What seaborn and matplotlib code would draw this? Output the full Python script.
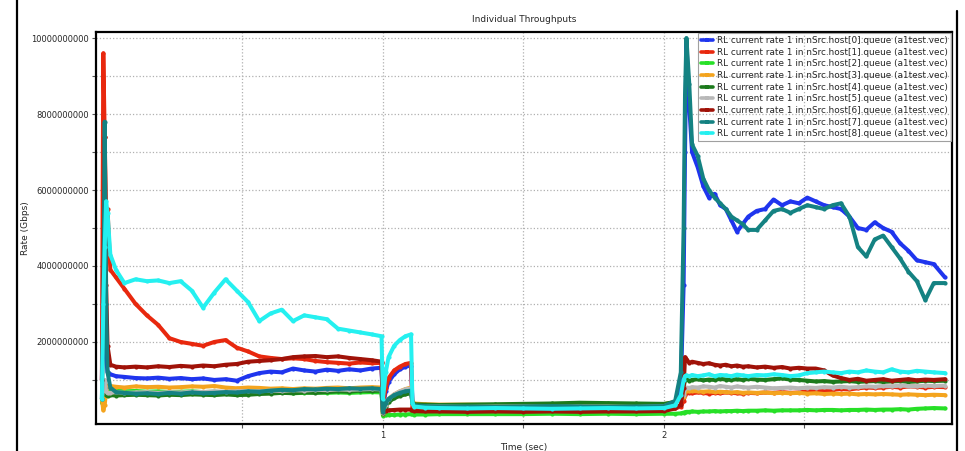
import matplotlib
matplotlib.use("Agg")
import matplotlib.pyplot as plt
import pandas as pd
import seaborn as sns
from matplotlib.lines import Line2D
from matplotlib.ticker import FixedLocator, FuncFormatter

sns.set_style("white")
plt.rcParams["font.family"] = ["DejaVu Sans"]

# ---- data (rates in units of 1e9) ----
time_s = [0.0, 0.005, 0.01, 0.015, 0.02, 0.03, 0.05, 0.08, 0.12, 0.16, 0.20, 0.24, 0.28, 0.32, 0.36,
          0.40, 0.44, 0.48, 0.52, 0.56, 0.60, 0.64, 0.68, 0.72, 0.76, 0.80, 0.84, 0.88, 0.92, 0.96, 0.995,
          1.0, 1.01, 1.02, 1.04, 1.06, 1.08, 1.1, 1.105,
          1.11, 1.15, 1.2, 1.3, 1.4, 1.5, 1.6, 1.7, 1.8, 1.9, 2.0, 2.04, 2.06,
          2.07, 2.075, 2.08, 2.09, 2.1, 2.12, 2.14, 2.16, 2.18, 2.2, 2.22, 2.24, 2.26, 2.28, 2.30, 2.33,
          2.36, 2.39, 2.42, 2.45, 2.48, 2.51, 2.54, 2.57, 2.60, 2.63, 2.66, 2.69, 2.72, 2.75, 2.78, 2.81,
          2.84, 2.87, 2.90, 2.93, 2.96, 3.0]

host0 = [1.0, 5.1, 2.8, 1.6, 1.2, 1.15, 1.1, 1.08, 1.05, 1.04, 1.06, 1.03, 1.05, 1.02, 1.04, 1.0, 1.02,
         0.98, 1.1, 1.18, 1.22, 1.2, 1.3, 1.25, 1.22, 1.27, 1.24, 1.28, 1.25, 1.3, 1.32,
         0.3, 0.7, 0.95, 1.15, 1.28, 1.35, 1.38, 0.45,
         0.35, 0.3, 0.28, 0.26, 0.27, 0.25, 0.26, 0.25, 0.24, 0.25, 0.26, 0.35, 0.8,
         3.5, 7.0, 9.9, 8.2, 7.0, 6.6, 6.1, 5.8, 5.9, 5.6, 5.5, 5.2, 4.9, 5.1, 5.3, 5.45, 5.5, 5.75,
         5.6, 5.7, 5.65, 5.8, 5.7, 5.6, 5.55, 5.5, 5.3, 5.0, 4.95, 5.15, 5.0, 4.9, 4.6, 4.4, 4.15,
         4.1, 4.05, 3.7]
host1 = [1.0, 9.6, 7.4, 5.3, 5.5, 3.9, 3.7, 3.4, 3.0, 2.7, 2.45, 2.1, 2.0, 1.95, 1.9, 2.0, 2.05, 1.85,
         1.75, 1.62, 1.58, 1.55, 1.57, 1.55, 1.5, 1.47, 1.45, 1.43, 1.46, 1.44, 1.45,
         0.35, 0.8, 1.05, 1.25, 1.35, 1.42, 1.45, 0.3,
         0.22, 0.2, 0.2, 0.19, 0.2, 0.21, 0.2, 0.19, 0.2, 0.2, 0.21, 0.25, 0.3,
         0.45, 0.6, 0.65, 0.66, 0.65, 0.67, 0.66, 0.64, 0.66, 0.65, 0.67, 0.66, 0.65, 0.64, 0.66,
         0.65, 0.67, 0.66, 0.68, 0.66, 0.67, 0.7, 0.72, 0.71, 0.74, 0.76, 0.75, 0.78, 0.8, 0.79,
         0.8, 0.82, 0.8, 0.83, 0.82, 0.8, 0.82, 0.81]
host2 = [0.4, 0.5, 0.55, 0.62, 0.68, 0.7, 0.72, 0.7, 0.71, 0.69, 0.7, 0.68, 0.69, 0.7, 0.68, 0.69,
         0.67, 0.68, 0.66, 0.67, 0.66, 0.67, 0.65, 0.66, 0.67, 0.66, 0.67, 0.66, 0.67, 0.68, 0.67,
         0.06, 0.07, 0.08, 0.08, 0.09, 0.09, 0.1, 0.1,
         0.09, 0.09, 0.1, 0.1, 0.1, 0.1, 0.11, 0.1, 0.11, 0.1, 0.11, 0.11, 0.12,
         0.14, 0.15, 0.16, 0.16, 0.17, 0.16, 0.17, 0.17, 0.18, 0.17, 0.18, 0.18, 0.19, 0.18, 0.19,
         0.19, 0.2, 0.19, 0.2, 0.2, 0.2, 0.21, 0.2, 0.21, 0.21, 0.2, 0.21, 0.21, 0.22, 0.21,
         0.22, 0.22, 0.23, 0.22, 0.24, 0.25, 0.26, 0.25]
host3 = [0.5, 0.2, 0.35, 0.7, 0.85, 0.84, 0.82, 0.8, 0.83, 0.81, 0.82, 0.8, 0.81, 0.83, 0.82, 0.84,
         0.8, 0.78, 0.8, 0.79, 0.77, 0.78, 0.76, 0.78, 0.77, 0.79, 0.8, 0.78, 0.8, 0.81, 0.8,
         0.1, 0.35, 0.5, 0.62, 0.7, 0.76, 0.8, 0.42,
         0.38, 0.36, 0.35, 0.35, 0.34, 0.35, 0.34, 0.35, 0.34, 0.35, 0.36, 0.42, 0.48,
         0.55, 0.68, 0.72, 0.7, 0.71, 0.7, 0.69, 0.7, 0.68, 0.69, 0.68, 0.67, 0.68, 0.66, 0.67,
         0.66, 0.67, 0.65, 0.66, 0.65, 0.66, 0.64, 0.65, 0.63, 0.64, 0.63, 0.64, 0.62, 0.63, 0.62,
         0.63, 0.62, 0.61, 0.62, 0.61, 0.6, 0.61, 0.6]
host4 = [0.5, 0.9, 0.8, 0.6, 0.58, 0.6, 0.59, 0.6, 0.61, 0.6, 0.59, 0.61, 0.6, 0.62, 0.61, 0.6, 0.62,
         0.6, 0.61, 0.63, 0.64, 0.66, 0.65, 0.67, 0.66, 0.68, 0.7, 0.69, 0.72, 0.71, 0.72,
         0.1, 0.3, 0.42, 0.52, 0.58, 0.62, 0.65, 0.4,
         0.36, 0.35, 0.34, 0.35, 0.36, 0.37, 0.38, 0.4, 0.39, 0.38, 0.37, 0.42, 0.55,
         0.8, 1.0, 1.02, 0.98, 1.0, 1.02, 0.99, 1.01, 1.0, 1.03, 1.01, 1.0, 1.02, 1.0, 1.03, 1.01,
         1.0, 1.02, 1.04, 1.01, 1.0, 0.98, 0.96, 0.97, 0.95, 0.96, 0.97, 0.95, 0.96, 0.97,
         0.95, 0.96, 0.97, 0.95, 0.96, 0.98, 0.97, 0.98]
host5 = [0.5, 0.8, 1.0, 0.7, 0.65, 0.66, 0.68, 0.66, 0.67, 0.68, 0.66, 0.68, 0.67, 0.69, 0.68, 0.7,
         0.69, 0.7, 0.71, 0.7, 0.72, 0.71, 0.73, 0.72, 0.74, 0.73, 0.75, 0.74, 0.75, 0.76, 0.75,
         0.12, 0.35, 0.5, 0.62, 0.7, 0.75, 0.78, 0.4,
         0.32, 0.3, 0.3, 0.29, 0.3, 0.3, 0.29, 0.3, 0.3, 0.29, 0.31, 0.4, 0.5,
         0.6, 0.78, 0.8, 0.79, 0.81, 0.8, 0.83, 0.82, 0.8, 0.84, 0.82, 0.8, 0.83, 0.81, 0.8, 0.82,
         0.8, 0.78, 0.79, 0.8, 0.78, 0.8, 0.79, 0.81, 0.8, 0.82, 0.8, 0.81, 0.83, 0.82,
         0.84, 0.83, 0.85, 0.84, 0.83, 0.85, 0.84, 0.85]
host6 = [1.0, 3.0, 7.4, 3.5, 1.9, 1.4, 1.35, 1.33, 1.35, 1.33, 1.36, 1.34, 1.37, 1.35, 1.38, 1.36,
         1.4, 1.42, 1.48, 1.5, 1.52, 1.55, 1.6, 1.62, 1.63, 1.6, 1.62, 1.58, 1.55, 1.52, 1.48,
         0.15, 0.18, 0.2, 0.21, 0.22, 0.22, 0.22, 0.2,
         0.18, 0.17, 0.17, 0.16, 0.17, 0.16, 0.17, 0.16, 0.17, 0.17, 0.18, 0.25, 0.35,
         0.8, 1.6, 1.55, 1.45, 1.48, 1.45, 1.42, 1.44, 1.4, 1.38, 1.4, 1.36, 1.38, 1.35, 1.36,
         1.33, 1.35, 1.32, 1.34, 1.3, 1.32, 1.3, 1.3, 1.25, 1.12, 1.05, 1.0, 1.03, 0.98, 1.0,
         1.02, 0.98, 1.0, 1.02, 0.99, 1.01, 1.0, 1.02]
host7 = [0.5, 2.5, 7.8, 3.0, 1.2, 0.8, 0.68, 0.66, 0.64, 0.65, 0.63, 0.66, 0.64, 0.67, 0.65, 0.66,
         0.68, 0.67, 0.7, 0.69, 0.72, 0.74, 0.73, 0.76, 0.75, 0.77, 0.76, 0.78, 0.77, 0.78, 0.76,
         0.15, 0.4, 0.5, 0.6, 0.66, 0.7, 0.72, 0.4,
         0.33, 0.31, 0.3, 0.3, 0.29, 0.3, 0.31, 0.3, 0.29, 0.3, 0.31, 0.45, 1.2,
         5.0, 8.5, 10.0, 8.8, 7.2, 6.9, 6.3, 6.0, 5.8, 5.65, 5.5, 5.3, 5.2, 5.1, 4.95, 4.95, 5.2,
         5.45, 5.5, 5.4, 5.5, 5.6, 5.55, 5.5, 5.6, 5.65, 5.3, 4.5, 4.25, 4.7, 4.8, 4.5, 4.2,
         3.85, 3.6, 3.1, 3.55, 3.55]
host8 = [0.5, 3.0, 4.5, 5.7, 5.4, 4.3, 3.9, 3.55, 3.65, 3.6, 3.62, 3.55, 3.6, 3.35, 2.9, 3.3, 3.65,
         3.35, 3.05, 2.55, 2.75, 2.85, 2.55, 2.7, 2.65, 2.6, 2.35, 2.3, 2.25, 2.2, 2.15,
         0.5, 1.2, 1.6, 1.9, 2.05, 2.15, 2.2, 0.4,
         0.3, 0.27, 0.26, 0.25, 0.26, 0.25, 0.24, 0.25, 0.26, 0.25, 0.26, 0.33, 0.6,
         1.0, 1.1, 1.12, 1.1, 1.13, 1.1, 1.12, 1.15, 1.1, 1.13, 1.12, 1.1, 1.14, 1.12, 1.1, 1.13,
         1.12, 1.15, 1.13, 1.1, 1.12, 1.18, 1.2, 1.22, 1.2, 1.18, 1.22, 1.2, 1.25, 1.22,
         1.2, 1.28, 1.22, 1.2, 1.24, 1.22, 1.2, 1.18]

series_values = [host0, host1, host2, host3, host4, host5, host6, host7, host8]
labels = [f"RL current rate 1 in nSrc.host[{i}].queue (a1test.vec)" for i in range(9)]
colors = ["#1f35ee", "#e8280e", "#27e027", "#f4a41e", "#1c7a1c",
          "#b8b8b8", "#a01208", "#148282", "#25f0f0"]
y_major = [2e9, 4e9, 6e9, 8e9, 10e9]
y_minor = [1e9, 3e9, 5e9, 7e9, 9e9]
x_major = [1, 2]
x_minor = [0.5, 1.5, 2.5]

rows = []
for lab, vals in zip(labels, series_values):
    for t, v in zip(time_s, vals):
        rows.append({"time": t, "rate": v * 1e9, "series": lab})
df = pd.DataFrame(rows)

fig = plt.figure(figsize=(9.65, 4.51), dpi=100)
ax = fig.add_axes([96 / 965, 27 / 451, 856 / 965, 392 / 451])

sns.lineplot(data=df, x="time", y="rate", hue="series", hue_order=labels, palette=colors,
             estimator=None, sort=False, legend=False, linewidth=2.9, marker="o",
             markersize=3.0, markeredgewidth=0, ax=ax)

ax.set_xlim(-0.021, 3.025)
ax.set_ylim(-0.16e9, 10.16e9)
ax.yaxis.set_major_locator(FixedLocator(y_major))
ax.yaxis.set_minor_locator(FixedLocator(y_minor))
ax.yaxis.set_major_formatter(FuncFormatter(lambda v, _: f"{int(round(v))}"))
ax.xaxis.set_major_locator(FixedLocator(x_major))
ax.xaxis.set_minor_locator(FixedLocator(x_minor))
ax.xaxis.set_major_formatter(FuncFormatter(lambda v, _: f"{int(v)}"))
ax.tick_params(which="both", direction="out", length=3, width=0.8, color="#555555",
               labelsize=6, pad=2, bottom=True, left=True)
ax.grid(which="both", color="#b0b0b0", linestyle=":", linewidth=0.9)
for sp in ax.spines.values():
    sp.set_color("black")
    sp.set_linewidth(1.6)

ax.set_title("Individual Throughputs", fontsize=6.5, pad=7)
ax.set_xlabel("Time (sec)", fontsize=6.5, labelpad=2)
ax.set_ylabel("Rate (Gbps)", fontsize=6.5)
ax.yaxis.set_label_coords(-0.077, 0.5)

handles = [Line2D([], [], color=c, lw=2.6, marker="s", markersize=3.5, markeredgewidth=0)
           for c in colors]
leg = ax.legend(handles, labels, loc="upper right", bbox_to_anchor=(1.0, 1.0),
                borderaxespad=0.15, fontsize=6.4, handlelength=1.4, handletextpad=0.4,
                labelspacing=0.3, borderpad=0.3, fancybox=False, frameon=True,
                facecolor="none", edgecolor="#a0a0a0", framealpha=1)
leg.get_frame().set_linewidth(0.8)

fig.add_artist(Line2D([17 / 965, 17 / 965], [0, 1], transform=fig.transFigure,
                      color="black", lw=1.6))
fig.add_artist(Line2D([957 / 965, 957 / 965], [0, 440 / 451], transform=fig.transFigure,
                      color="black", lw=1.6))

fig.savefig("out.png", dpi=100, facecolor="white")
